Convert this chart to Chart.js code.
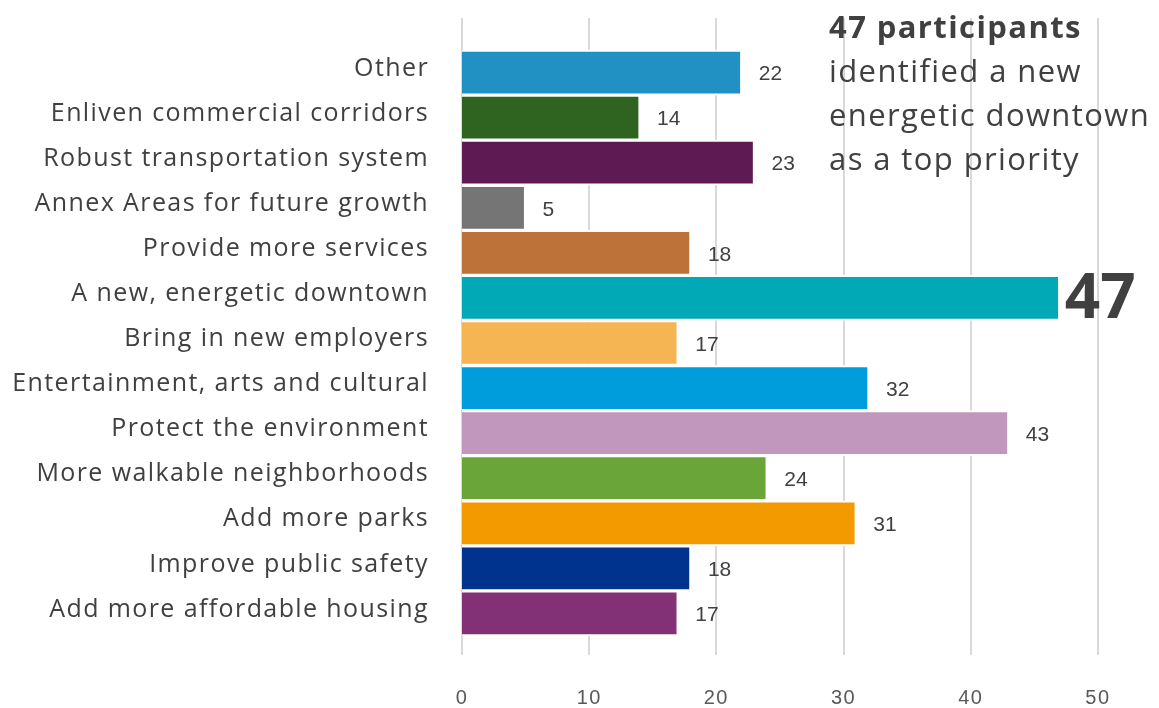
<!DOCTYPE html>
<html><head><meta charset="utf-8">
<script src="https://cdn.jsdelivr.net/npm/chart.js@4/dist/chart.umd.min.js"></script>
<style>html,body{margin:0;padding:0;background:#fff;}#wrap{width:1159px;height:708px;}</style>
</head><body><div id="wrap"><canvas id="c" width="1159" height="708"></canvas></div>
<script>
const categories = ["Other","Enliven commercial corridors","Robust transportation system","Annex Areas for future growth","Provide more services","A new, energetic downtown","Bring in new employers","Entertainment, arts and cultural","Protect the environment","More walkable neighborhoods","Add more parks","Improve public safety","Add more affordable housing"];
const values = [22,14,23,5,18,47,17,32,43,24,31,18,17];
const barColors = ["#2191c4","#2e6320","#5e1a52","#757575","#bd723a","#00a9b5","#f5b553","#009ddc","#c297bd","#6aa53a","#f29a00","#00338d","#833177"];
const xTicks = [0,10,20,30,40,50];
const highlightIndex = 5;
const noteLines = ["47 participants","identified a new","energetic downtown","as a top priority"];

const LABEL_FONT = "'Open Sans', sans-serif";
const NUM_FONT = "'Liberation Sans', Arial, sans-serif";
const TEXT_COLOR = "#404040";

const spacingPlugin = {
  id: 'spacing',
  beforeDraw(chart) { chart.ctx.letterSpacing = '1.4px'; },
  beforeDatasetsDraw(chart) { chart.ctx.letterSpacing = '0px'; }
};

const gridPlugin = {
  id: 'grid',
  beforeDatasetsDraw(chart) {
    const ctx = chart.ctx, xs = chart.scales.x;
    ctx.save();
    ctx.strokeStyle = '#d9d9d9';
    ctx.lineWidth = 2;
    xTicks.forEach(v => {
      const x = Math.round(xs.getPixelForValue(v));
      ctx.beginPath(); ctx.moveTo(x, 18); ctx.lineTo(x, 655); ctx.stroke();
    });
    ctx.restore();
  }
};

const labelPlugin = {
  id: 'labels',
  afterDatasetsDraw(chart) {
    const ctx = chart.ctx;
    const meta = chart.getDatasetMeta(0);
    ctx.save();
    ctx.fillStyle = TEXT_COLOR;
    ctx.textBaseline = 'middle';
    ctx.textAlign = 'left';
    ctx.letterSpacing = '0px';
    meta.data.forEach((bar, i) => {
      if (i === highlightIndex) {
        ctx.font = "bold 62px " + LABEL_FONT;
        ctx.fillText(String(values[i]), bar.x + 5, bar.y + 2);
      } else {
        ctx.font = "21px " + NUM_FONT;
        ctx.fillText(String(values[i]), bar.x + 17, bar.y + 2);
      }
    });
    ctx.letterSpacing = '1.4px';
    noteLines.forEach((t, i) => {
      ctx.font = (i === 0 ? "bold " : "") + "31px " + LABEL_FONT;
      ctx.fillText(t, 829, 29 + i * 44);
    });
    ctx.restore();
  }
};

new Chart(document.getElementById('c'), {
  type: 'bar',
  data: {
    labels: categories,
    datasets: [{
      data: values,
      backgroundColor: barColors,
      borderColor: '#ffffff',
      borderWidth: 2,
      barPercentage: 1,
      categoryPercentage: 1
    }]
  },
  options: {
    indexAxis: 'y',
    responsive: false,
    devicePixelRatio: 1,
    animation: false,
    layout: { padding: { top: 50, right: 58, left: 0, bottom: 0 } },
    plugins: { legend: { display: false }, tooltip: { enabled: false } },
    scales: {
      x: {
        min: 0, max: 50,
        afterFit(s) { s.height = 72; },
        afterBuildTicks(s) { s.ticks = xTicks.map(v => ({ value: v })); },
        grid: { display: false, drawTicks: false },
        border: { display: false },
        ticks: { padding: 50, color: '#595959', font: { family: NUM_FONT, size: 20 } }
      },
      y: {
        afterFit(s) { s.width = 462; },
        grid: { display: false, drawTicks: false },
        border: { display: false },
        ticks: { padding: 33, labelOffset: -4, color: TEXT_COLOR, font: { family: LABEL_FONT, size: 25 } }
      }
    }
  },
  plugins: [spacingPlugin, gridPlugin, labelPlugin]
});
</script>
</body></html>
